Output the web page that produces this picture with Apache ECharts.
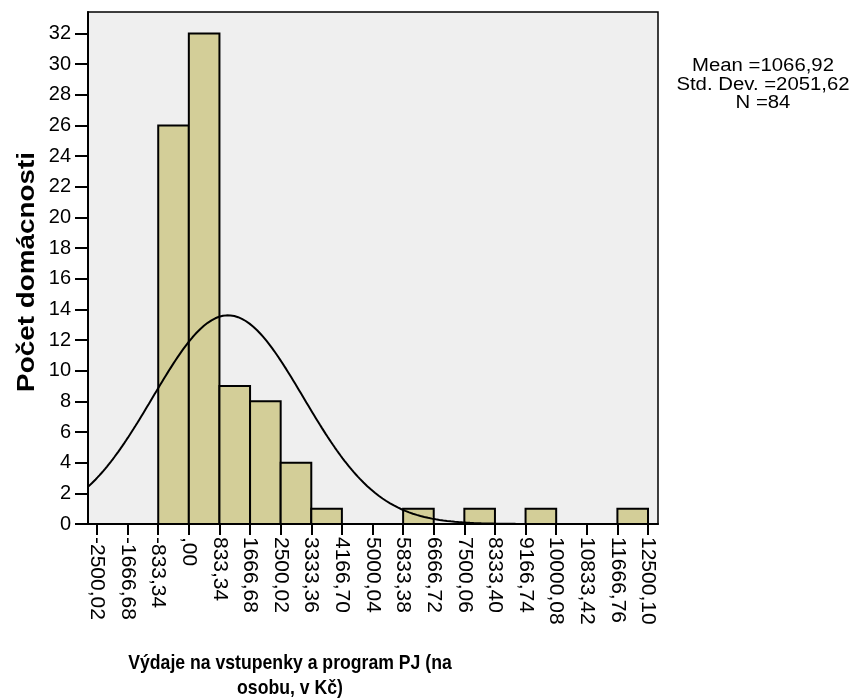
<!DOCTYPE html>
<html>
<head>
<meta charset="utf-8">
<script src="https://cdn.jsdelivr.net/npm/echarts@6/dist/echarts.min.js"></script>
<style>
  html, body { margin: 0; padding: 0; background: #fff; }
  #main { width: 861px; height: 700px; }
</style>
</head>
<body>
<div id="main"></div>
<script>
// histogram bins (lower edge) and counts
var binStarts = [-833.34, 0, 833.34, 1666.68, 2500.02, 3333.36, 5833.38, 7500.06, 9166.74, 11666.76];
var binCounts = [26, 32, 9, 8, 4, 1, 1, 1, 1, 1];
var binWidth = 833.34;

// x axis tick labels
var tickValues = [-2500.02, -1666.68, -833.34, 0, 833.34, 1666.68, 2500.02, 3333.36, 4166.70,
    5000.04, 5833.38, 6666.72, 7500.06, 8333.40, 9166.74, 10000.08, 10833.42, 11666.76, 12500.10];
var tickLabels = ['-2500,02', '-1666,68', '-833,34', ',00', '833,34', '1666,68', '2500,02', '3333,36', '4166,70',
    '5000,04', '5833,38', '6666,72', '7500,06', '8333,40', '9166,74', '10000,08', '10833,42', '11666,76', '12500,10'];

// stats shown in the legend box
var statNames = ['Mean', 'Std. Dev.', 'N'];
var statValues = [1066.92, 2051.62, 84];
var statLabels = ['1066,92', '2051,62', '84'];

var xMin = -2745, xMax = 12772;

var chart = echarts.init(document.getElementById('main'), null, { renderer: 'canvas' });

// normal curve from the stated mean / sd / N
var mean = statValues[0], sd = statValues[1], n = statValues[2];
var curve = [];
for (var i = 0; i <= 300; i++) {
    var x = xMin + (xMax - xMin) * i / 300;
    var z = (x - mean) / sd;
    curve.push([x, n * binWidth / (sd * Math.sqrt(2 * Math.PI)) * Math.exp(-0.5 * z * z)]);
}

var bars = [];
for (var j = 0; j < binStarts.length; j++) {
    bars.push([binStarts[j], binStarts[j] + binWidth, binCounts[j]]);
}

var font = 'Liberation Sans, Arial, sans-serif';

var statText = [];
for (var s = 0; s < statNames.length; s++) {
    statText.push(statNames[s] + ' =' + statLabels[s]);
}

var option = {
    animation: false,
    backgroundColor: '#fff',
    grid: {
        left: 88, top: 12, width: 570, height: 512,
        show: true, backgroundColor: '#efefef', borderColor: '#000', borderWidth: 1.5
    },
    xAxis: {
        type: 'value',
        min: xMin,
        max: xMax,
        splitLine: { show: false },
        axisLine: { onZero: false, lineStyle: { color: '#000', width: 2 } },
        axisTick: { show: true, length: 11, lineStyle: { color: '#000', width: 2 }, customValues: tickValues },
        axisLabel: {
            customValues: tickValues,
            rotate: -90,
            margin: 13,
            color: '#000',
            fontSize: 21,
            fontFamily: font,
            formatter: function (v) {
                for (var k = 0; k < tickValues.length; k++) {
                    if (Math.abs(tickValues[k] - v) < 0.01) return tickLabels[k];
                }
                return '';
            }
        }
    },
    yAxis: {
        type: 'value',
        min: 0,
        max: 33.4,
        interval: 2,
        splitLine: { show: false },
        axisLine: { show: true, onZero: false, lineStyle: { color: '#000', width: 2 } },
        axisTick: { show: true, length: 13, lineStyle: { color: '#000', width: 2 } },
        axisLabel: {
            color: '#000', fontSize: 20, fontFamily: font, margin: 17,
            showMaxLabel: false,
            formatter: function (v) { return v <= 32 ? String(v) : ''; }
        }
    },
    series: [
        {
            type: 'custom',
            data: bars,
            encode: { x: [0, 1], y: 2 },
            renderItem: function (params, api) {
                var p0 = api.coord([api.value(0), api.value(2)]);
                var p1 = api.coord([api.value(1), 0]);
                return {
                    type: 'rect',
                    shape: { x: p0[0], y: p0[1], width: p1[0] - p0[0], height: p1[1] - p0[1] },
                    style: { fill: '#d3ce98', stroke: '#000', lineWidth: 2 }
                };
            },
            z: 2
        },
        {
            type: 'line',
            data: curve,
            showSymbol: false,
            symbol: 'none',
            clip: true,
            lineStyle: { color: '#000', width: 2 },
            z: 3
        }
    ],
    graphic: [
        {
            type: 'text',
            x: 763, y: 57, scaleX: 1.13,
            style: {
                text: statText.join('\n'),
                align: 'center', verticalAlign: 'top',
                font: '18px ' + font, fill: '#000', lineHeight: 18.5
            }
        },
        {
            type: 'text',
            x: 27, y: 272, rotation: Math.PI / 2, scaleX: 1.16,
            style: {
                text: 'Počet domácnosti', align: 'center', verticalAlign: 'middle',
                font: 'bold 24px ' + font, fill: '#000'
            }
        },
        {
            type: 'text',
            x: 290, y: 651, scaleX: 0.84,
            style: {
                text: 'Výdaje na vstupenky a program PJ (na\nosobu, v Kč)',
                align: 'center', verticalAlign: 'top',
                font: 'bold 21px ' + font, fill: '#000', lineHeight: 25
            }
        }
    ]
};

chart.setOption(option);
</script>
</body>
</html>
